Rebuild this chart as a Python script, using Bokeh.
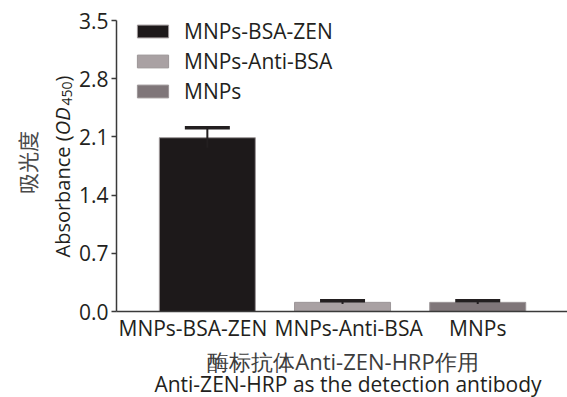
import math
from bokeh.plotting import figure
from bokeh.layouts import row, column
from bokeh.models import (ColumnDataSource, Whisker, TeeHead, Legend, LegendItem,
                          FixedTicker)
from bokeh.core.properties import value
from bokeh.embed import file_html
from bokeh.resources import INLINE

# ---- data ----
categories = ["MNPs-BSA-ZEN", "MNPs-Anti-BSA", "MNPs"]
absorbance = [2.09, 0.11, 0.11]
errors = [0.12, 0.02, 0.02]
bar_colors = ["#1d191a", "#a9a1a3", "#7f7679"]
y_ticks = [0.0, 0.7, 1.4, 2.1, 2.8, 3.5]
y_tick_labels = ["0.0", "0.7", "1.4", "2.1", "2.8", "3.5"]
label_shift = [-0.107, 0.045, 0.0]   # horizontal nudge of category labels (layout)

y_title_cn = "吸光度"
y_title_parts = ["Absorbance (", "OD", "450", ")"]
x_title_cn = "酶标抗体Anti-ZEN-HRP作用"
x_title_en = "Anti-ZEN-HRP as the detection antibody"

FONT = "Open Sans"
CJK = "Noto Sans CJK SC"
TXT = "#231f20"
CNC = "#4a4a4a"
FS = 21

W, H = 567, 397
LW = 75                 # left title strip width
MW = W - LW             # main width
BL = 40                 # main left border (tick labels)
FRAME_H = 311           # frame top at page 0, bottom at page 311
BB = 35
MH = FRAME_H + BB
BH = H - MH             # bottom strip height
X0, X1 = 0.328, 3.664
PX_PER_X = (MW - BL) / (X1 - X0)
Y1 = FRAME_H / (291 / 3.5)

def px_to_x(page_x):
    return X0 + (page_x - LW - BL) / PX_PER_X

xs = list(range(1, len(categories) + 1))
src = ColumnDataSource(dict(
    x=xs, top=absorbance,
    upper=[a + e for a, e in zip(absorbance, errors)],
    lower=[a - e for a, e in zip(absorbance, errors)],
    color=bar_colors, label=categories))

p = figure(width=MW, height=MH, output_backend="svg", toolbar_location=None,
           x_range=(X0, X1), y_range=(0, Y1),
           min_border_left=BL, min_border_right=0, min_border_top=0,
           min_border_bottom=BB)
p.outline_line_color = None
p.xgrid.visible = False
p.ygrid.visible = False

r = p.vbar(x="x", top="top", width=0.71, bottom=0, source=src,
           fill_color="color", line_color="#9c9698", line_width=1)

w = Whisker(source=src, base="x", upper="upper", lower="lower",
            line_color="#231f20", line_width=2, level="annotation",
            upper_head=TeeHead(size=45, line_width=3.5, line_color="#231f20"),
            lower_head=None)
p.add_layout(w)

# x axis with category labels
tick_pos = [x + s for x, s in zip(xs, label_shift)]
xa = p.xaxis[0]
xa.axis_label = None
xa.ticker = FixedTicker(ticks=tick_pos)
xa.major_label_overrides = {t: c for t, c in zip(tick_pos, categories)}
xa.major_tick_out = 0
xa.major_tick_in = 0
xa.minor_tick_out = 0
xa.minor_tick_in = 0
xa.major_tick_line_color = None
xa.minor_tick_line_color = None
xa.major_label_standoff = 2
xa.axis_line_color = "#3a3a3a"
xa.axis_line_width = 1.5
xa.major_label_text_font = FONT
xa.major_label_text_font_size = f"{FS}px"
xa.major_label_text_color = TXT

ya = p.yaxis[0]
ya.axis_label = None
ya.ticker = FixedTicker(ticks=y_ticks)
ya.bounds = (y_ticks[0], y_ticks[-1])
ya.major_label_overrides = {t: l for t, l in zip(y_ticks, y_tick_labels)}
ya.minor_tick_line_color = None
ya.major_tick_in = 0
ya.major_tick_out = 5
ya.major_tick_line_color = "#3a3a3a"
ya.major_tick_line_width = 1.5
ya.axis_line_color = "#3a3a3a"
ya.axis_line_width = 1.5
ya.major_label_text_font = FONT
ya.major_label_text_font_size = f"{FS}px"
ya.major_label_text_color = TXT
ya.major_label_standoff = 3

# legend
items = [LegendItem(label=c, renderers=[r], index=i) for i, c in enumerate(categories)]
leg = Legend(items=items, location=(17, 206), margin=0, padding=0,
             glyph_width=39, glyph_height=16, spacing=2,
             label_standoff=12, label_text_font=FONT,
             label_text_font_size=f"{FS}px", label_text_color=TXT,
             background_fill_alpha=0, border_line_color=None,
             label_text_baseline="middle")
p.add_layout(leg, "center")

def strip(wd, ht, **kw):
    f = figure(width=wd, height=ht, output_backend="svg", toolbar_location=None,
               x_axis_type=None, y_axis_type=None, min_border=0, **kw)
    f.outline_line_color = None
    f.xgrid.visible = False
    f.ygrid.visible = False
    return f

# ---- left strip: rotated y title (two lines) ----
ang = math.pi / 2
left = strip(LW, H, x_range=(0, LW), y_range=(0, H))
left.text(x=[26], y=[235], text=[y_title_cn], angle=ang, text_font=value(CJK),
          text_font_size="21px", text_color=CNC, text_align="center",
          text_baseline="middle")
YS = 20
sizes = [YS, YS, 14, YS]
styles = ["normal", "italic", "normal", "normal"]
advance = [6.117 * YS, 1.48 * YS, 1.716 * 14, 0.297 * YS]
shift = [0, 0, 4, 0]
yp = 140
for part, sz, st, adv, sh in zip(y_title_parts, sizes, styles, advance, shift):
    left.text(x=[62 + sh], y=[yp], text=[part], angle=ang, text_font=value(FONT),
              text_font_style=st, text_font_size=f"{sz}px", text_color=TXT,
              text_align="left", text_baseline="alphabetic")
    yp += adv

# ---- bottom strip: x titles ----
bottom = strip(MW, BH, x_range=p.x_range, y_range=(0, BH))
bottom.min_border_left = BL
bottom.text(x=[px_to_x(342)], y=[H - 360], text=[x_title_cn], text_font=value(FONT),
            text_font_size="22px", text_color="#3c3c3c", text_align="center",
            text_baseline="middle")
bottom.text(x=[px_to_x(347)], y=[H - 383], text=[x_title_en], text_font=value(FONT),
            text_font_size=f"{FS}px", text_color=TXT, text_align="center",
            text_baseline="middle")

layout = row(left, column(p, bottom))
open("out.html", "w").write(file_html(layout, INLINE))
